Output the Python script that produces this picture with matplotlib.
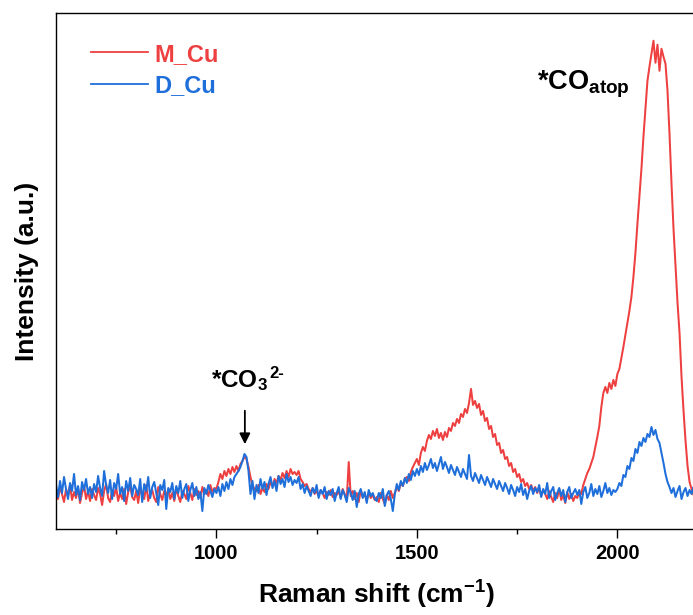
import numpy as np
import matplotlib
matplotlib.use("Agg")
import matplotlib.pyplot as plt
from matplotlib.lines import Line2D

plt.rcParams['font.family'] = ['Liberation Sans', 'DejaVu Sans']
plt.rcParams['font.weight'] = 'bold'
plt.rcParams['mathtext.fontset'] = 'custom'
plt.rcParams['mathtext.rm'] = 'Liberation Sans:bold'
plt.rcParams['mathtext.bf'] = 'Liberation Sans:bold'
plt.rcParams['mathtext.it'] = 'Liberation Sans:bold'

# Raman shift grid (cm-1), 5 cm-1 step
wavenumber = np.arange(600, 2205, 5)

# M_Cu spectrum (a.u.), one row per 100 cm-1
m_cu = [
    38, 30, 42, 35, 27, 40, 33, 44, 29, 37, 31, 41, 26, 36, 43, 30, 38, 28, 40, 34,
    29, 41, 35, 24, 38, 45, 31, 27, 39, 33, 42, 28, 36, 30, 40, 25, 37, 43, 32, 29,
    38, 26, 41, 34, 30, 44, 28, 36, 39, 31, 27, 42, 35, 29, 38, 33, 40, 30, 36, 28,
    41, 33, 27, 38, 35, 30, 43, 36, 29, 40, 34, 38, 31, 42, 35, 39, 33, 44, 37, 41,
    40, 47, 55, 50, 58, 53, 60, 55, 62, 57, 63, 58, 65, 68, 72, 70, 62, 52, 44, 40,
    38, 44, 35, 41, 37, 45, 40, 47, 43, 50, 46, 53, 49, 56, 51, 58, 52, 60, 55, 57,
    54, 58, 50, 47, 43, 45, 40, 37, 41, 35, 38, 33, 39, 36, 31, 37, 34, 39, 32, 36,
    34, 38, 31, 40, 35, 29, 67, 33, 38, 30, 36, 27, 39, 32, 35, 28, 37, 31, 34, 29,
    32, 27, 36, 30, 25, 34, 29, 38, 31, 36, 42, 38, 46, 43, 50, 52, 48, 57, 62, 66,
    70, 64, 76, 82, 78, 88, 94, 90, 98, 93, 100, 91, 96, 89, 97, 92, 101, 98, 106, 103,
    110, 106, 115, 112, 120, 116, 126, 140, 124, 128, 121, 125, 114, 118, 108, 111, 100, 103, 92, 95,
    84, 86, 76, 79, 70, 72, 63, 66, 57, 60, 52, 55, 47, 50, 43, 46, 40, 44, 38, 42,
    36, 41, 33, 39, 35, 30, 38, 32, 27, 36, 31, 40, 29, 34, 26, 37, 30, 35, 28, 33,
    31, 38, 35, 44, 50, 56, 60, 66, 72, 82, 92, 103, 122, 136, 142, 136, 146, 140, 149, 143,
    155, 160, 171, 182, 194, 206, 218, 232, 252, 276, 305, 332, 360, 392, 420, 448, 462, 475, 488, 466,
    484, 458, 480, 472, 465, 438, 395, 345, 300, 262, 226, 196, 152, 118, 88, 63, 47, 40, 34, 38,
    33,
]

# D_Cu spectrum (a.u.)
d_cu = [
    44, 32, 48, 36, 52, 40, 30, 46, 38, 55, 34, 43, 29, 47, 39, 50, 35, 42, 31, 45,
    37, 53, 41, 33, 58, 44, 36, 49, 30, 46, 40, 55, 35, 42, 28, 48, 38, 51, 33, 44,
    40, 34, 50, 27, 45, 38, 52, 31, 42, 47, 36, 24, 44, 39, 49, 20, 41, 37, 46, 30,
    43, 36, 48, 31, 40, 45, 28, 39, 46, 33, 42, 30, 37, 18, 41, 35, 44, 38, 32, 40,
    36, 42, 33, 45, 38, 47, 40, 50, 44, 52, 55, 58, 62, 68, 75, 72, 58, 35, 48, 30,
    44, 36, 50, 40, 47, 34, 45, 52, 41, 48, 38, 53, 45, 50, 42, 55, 47, 52, 44, 49,
    46, 52, 40, 45, 36, 43, 38, 33, 41, 36, 44, 31, 39, 35, 42, 30, 38, 34, 40, 28,
    36, 42, 30, 39, 34, 27, 41, 36, 29, 38, 22, 35, 40, 31, 37, 26, 39, 33, 36, 30,
    28, 36, 31, 40, 23, 34, 38, 30, 18, 35, 45, 39, 48, 43, 51, 46, 55, 49, 58, 53,
    60, 54, 63, 57, 66, 59, 64, 70, 61, 66, 58, 65, 72, 60, 67, 62, 56, 64, 59, 54,
    62, 57, 52, 60, 55, 50, 74, 53, 48, 56, 51, 46, 54, 49, 44, 52, 47, 42, 50, 45,
    40, 48, 43, 38, 46, 41, 35, 44, 39, 33, 42, 37, 45, 34, 40, 30, 38, 43, 35, 41,
    37, 44, 32, 40, 35, 46, 31, 38, 42, 29, 36, 41, 33, 39, 27, 37, 42, 31, 36, 40,
    34, 39, 25, 37, 42, 31, 36, 45, 33, 40, 35, 43, 32, 38, 46, 36, 41, 34, 39, 37,
    40, 46, 43, 54, 52, 63, 60, 71, 68, 80, 76, 87, 83, 91, 87, 95, 92, 102, 94, 99,
    90, 86, 76, 66, 55, 47, 42, 36, 41, 32, 38, 43, 30, 37, 41, 33, 39, 35, 42, 36,
    38,
]

red = '#EE4040'
blue = '#1F6FDB'

fig = plt.figure(figsize=(6.93, 6.15), dpi=100)
ax = fig.add_axes([0.0808, 0.1398, 0.9258, 0.8395])

ax.plot(wavenumber, m_cu, color=red, lw=1.45, label='M_Cu')
ax.plot(wavenumber, d_cu, color=blue, lw=1.45, label='D_Cu')

ax.set_yticks([])
ax.set_xticks([1000, 1500, 2000])
ax.set_xticks([750, 1250, 1750], minor=True)
ax.set_xlim(600, 2200)
ax.set_ylim(0, 516)
ax.tick_params(axis='x', which='major', direction='out', length=6.5, width=1.0,
               labelsize=14.5, pad=4)
ax.tick_params(axis='x', which='minor', direction='out', length=3.6, width=1.0)
for side in ['left', 'bottom', 'top', 'right']:
    ax.spines[side].set_linewidth(1.0)

ax.set_xlabel('Raman shift (cm$^{-1}$)', fontsize=19, fontweight='bold', labelpad=12)
ax.set_ylabel('Intensity (a.u.)', fontsize=19, fontweight='bold', labelpad=12)

# peak labels
ax.text(1800, 444, '*CO$_{\\mathregular{atop}}$', fontsize=19.5, fontweight='bold',
        ha='left', va='center')
ax.text(987, 148, '*CO$_3$', fontsize=17.5, fontweight='bold',
        ha='left', va='center')
ax.annotate('2-', xy=(987, 148), xytext=(58, 7), textcoords='offset pixels',
            fontsize=12, fontweight='bold', ha='left', va='center')
ax.annotate('', xy=(1071, 82), xytext=(1071, 121),
            arrowprops=dict(arrowstyle='-|>', color='black', lw=1.3, mutation_scale=16))

handles = [Line2D([], [], color=red, lw=1.3), Line2D([], [], color=blue, lw=1.3)]
leg = ax.legend(handles, ['M_Cu', 'D_Cu'], loc='upper left', frameon=False,
                fontsize=17, handlelength=2.4, handletextpad=0.25, labelspacing=0.37,
                bbox_to_anchor=(0.022, 0.983))
for txt, c in zip(leg.get_texts(), [red, blue]):
    txt.set_color(c)
    txt.set_fontweight('bold')

fig.savefig('out.png', dpi=100)
